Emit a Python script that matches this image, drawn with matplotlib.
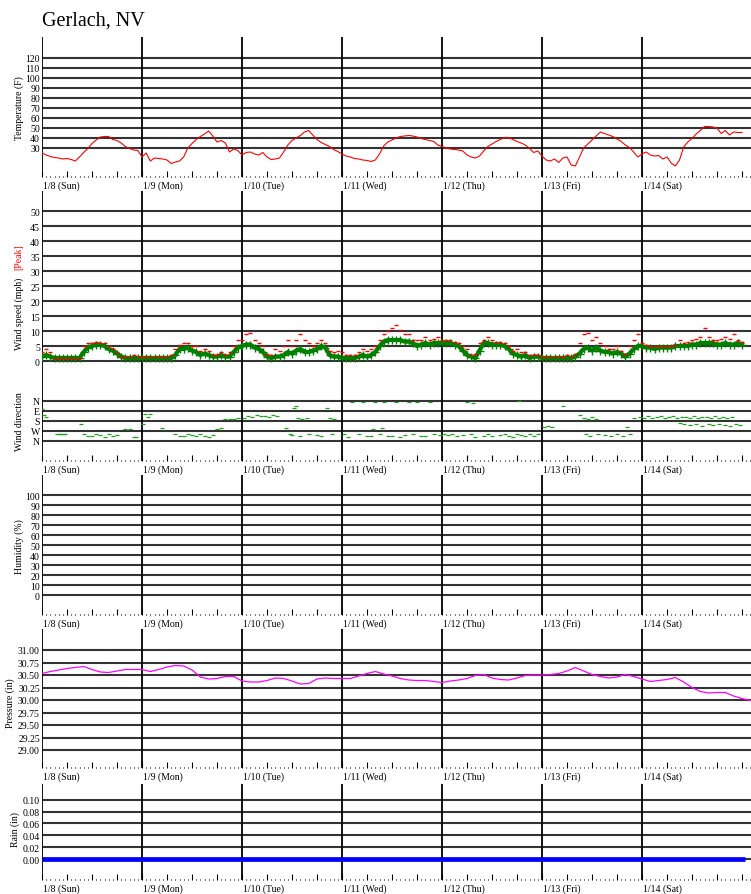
import numpy as np
import matplotlib
matplotlib.use("Agg")
import matplotlib.pyplot as plt

plt.rcParams["font.family"] = ["Liberation Serif", "DejaVu Serif"]
plt.rcParams["font.size"] = 7

W, H = 751, 895      # tamanho da figura em pixels
X0 = 42              # borda esquerda dos paineis
XMAX = 170.16        # horas visiveis no eixo x

DIAS = ["1/8 (Sun)", "1/9 (Mon)", "1/10 (Tue)", "1/11 (Wed)",
        "1/12 (Thu)", "1/13 (Fri)", "1/14 (Sat)"]

# temperatura (F), uma leitura por hora
temp_0108 = [25, 23, 21.5, 20.5, 20, 19, 19.5, 18.5, 17, 21, 25.5, 29.5,
             34.5, 38, 41, 41.5, 41.5, 38.5, 37.5, 35, 31.5, 29.5, 28, 27.5]
temp_0109 = [21, 25, 17, 20, 19.5, 19, 18, 14.5, 16, 17, 21, 30,
             34.5, 38.5, 41.5, 44, 47, 42, 36, 37.5, 35, 26, 29, 27.5]
temp_0110 = [23, 25.5, 26, 24, 23, 25.5, 21, 18.5, 19, 20, 26, 33,
             37.5, 40, 42.5, 46, 47.5, 43, 38.5, 35.5, 33.5, 31.5, 28.5, 26.5]
temp_0111 = [24, 22, 21, 19.5, 19, 18, 17.5, 16.5, 18, 24, 32, 36,
             38, 40, 41.5, 42, 42.5, 42, 41, 39.5, 38.5, 37.5, 36.5, 33]
temp_0112 = [31.5, 30, 29, 28.5, 28, 27, 23, 21, 20, 22, 27, 31.5,
             34, 36.5, 38.5, 40.5, 40.5, 38.5, 36.5, 35, 33, 29.5, 25.5, 27]
temp_0113 = [22, 18, 17, 19, 15.5, 20, 21, 13, 12, 21, 30, 34,
             38, 42, 46, 44.5, 43, 41.5, 39, 36.5, 33, 30.5, 26, 21]
temp_0114 = [24, 26, 23, 22, 22.5, 19, 21, 15, 12, 18, 31, 36,
             39.5, 44, 47.5, 51.5, 51.5, 51, 50, 44.5, 47.5, 43, 46, 45.5, 45.5]

# vento medio e rajada (mph), uma leitura por hora
vento_0108 = [1.5, 2, 1.5, 1, 1, 1, 1, 1, 1, 1, 3, 4.5,
              5, 5.5, 5.5, 5, 4, 3.5, 2.5, 1.5, 1, 1, 1, 1]
vento_0109 = [1, 1, 1, 1, 1, 1, 1, 1, 2, 4, 4, 4.5,
              3.5, 3, 2, 2.5, 2, 1.5, 1.5, 2, 1.5, 1.5, 3, 4.5]
vento_0110 = [5, 5.5, 5.5, 4.5, 4, 3, 1.5, 1, 1.5, 1.5, 2, 3,
              2.5, 3.5, 4, 3, 3, 3.5, 4, 5, 4.5, 2, 1.5, 1.5]
vento_0111 = [1, 1, 1, 1, 1.5, 2, 1.5, 2, 3, 5, 6.5, 7,
              7, 7, 7, 6.5, 6.5, 6, 5, 5.5, 6, 5.5, 6, 6]
vento_0112 = [6, 6, 6, 5.5, 5, 3.5, 2, 1.5, 1, 3.5, 6, 6,
              5.5, 5.5, 5.5, 5, 4, 2.5, 2, 1.5, 2, 1, 1.5, 1.5]
vento_0113 = [1, 1, 1, 1, 1, 1, 1, 1, 1.5, 2.5, 4, 4.5,
              3.5, 4.5, 3.5, 3, 3, 2.5, 3, 2.5, 1.5, 2.5, 4, 5]
vento_0114 = [5, 4.5, 4.5, 4, 4.5, 4.5, 4.5, 4.5, 5, 5, 5, 5,
              5.5, 5.5, 6, 6, 6, 6, 5.5, 5.5, 6, 5.5, 5.5, 6, 5.5]

rajada_0108 = [3, 4, 3, 1, 1, 1, 1, 1, 1, 1, 5, 6,
               6, 6.5, 6, 6, 5, 4, 3, 1.5, 1.5, 1.5, 2, 1.5]
rajada_0109 = [1.5, 1.5, 1.5, 1.5, 1.5, 1.5, 1.5, 2, 4, 5.5, 6, 6,
               5, 5, 3.5, 4, 3.5, 2, 2, 3, 2, 3, 5, 7]
rajada_0110 = [7, 9, 9.5, 7, 6, 5, 2.5, 2, 4, 3.5, 5, 7,
               5, 7, 9, 7, 6, 5, 6, 7, 6, 3.5, 3, 3.5]
rajada_0111 = [3, 2, 2, 2, 3, 4, 3.5, 4, 5, 7, 9, 10,
               11, 12, 10.5, 9, 9, 7, 7, 7, 8, 7, 7.5, 8]
rajada_0112 = [7, 7, 7, 6.5, 6, 5, 4, 2, 2.5, 6, 7, 8,
               7, 6.5, 6.5, 6, 5, 3.5, 4, 3, 3, 2, 2, 2]
rajada_0113 = [1.5, 1.5, 1.5, 1.5, 1.5, 1.5, 2, 1.5, 2.5, 6, 9, 9.5,
               7, 8, 6, 5, 4, 4, 5, 3.5, 2.5, 5, 7, 9]
rajada_0114 = [6, 5.5, 5, 5, 5, 5, 5, 5, 5.5, 7, 6, 6.5,
               7, 7.5, 8, 11, 8, 7, 7, 7.5, 8, 7.5, 9, 7, 6.5]

# direcao do vento (hora, graus)
dir_horas = [0, 0.5, 1, 3.5, 4, 4.5, 5, 5.5, 9.3, 10, 11, 12, 13, 14, 15, 16, 17, 18,
             20, 21, 22, 22.5,
             24.2, 24.8, 25.5, 26, 28.9, 32, 33, 34, 35, 36, 37, 38, 39, 40, 41,
             42, 43, 44, 45, 46, 47,
             48.5, 49.5, 50.5, 51.5, 52.5, 53.5, 54.5, 55.5, 56.5, 58.5, 60.5, 61,
             61.5, 62.5, 63.5, 59.5, 60, 62, 64, 66, 67, 69.5, 68.5, 69, 70,
             74.5, 77, 80, 82, 85, 88, 90, 93, 72.5, 73.5, 76, 78, 79, 81, 83, 84,
             86, 87, 89, 91, 92, 94, 95.5, 79.5, 81.5,
             96.5, 97.5, 98.5, 99.5, 101, 103, 104, 106, 107, 108, 110, 111, 112,
             113, 114, 115, 116, 117, 118, 119, 102, 103.5, 114.5,
             120.5, 121.5, 122.5, 125, 129, 130, 131, 132, 133, 130.5, 131.5,
             133.5, 135, 136.5, 138, 139.5, 141, 140.5,
             142, 143.5, 144.5, 145.5, 146.5, 147.5, 148.5, 149.5, 150.5, 151.5,
             152.5, 153.5, 154.5, 155.5, 156.5, 157.5, 158.5, 159.5, 160.5, 161.5,
             162.5, 163.5, 164.5, 165.5, 153, 154, 155.5, 157, 158.5, 160, 161,
             162.5, 164, 165, 166.5, 167.5]
dir_graus = [75, 126, 144, 294, 300, 294, 300, 294, 210, 300, 312, 318, 300, 310, 324, 300, 318, 306,
             250, 252, 320, 324,
             204, 120, 140, 114, 240, 300, 312, 318, 300, 306, 318, 300, 312, 324, 306,
             250, 246, 160, 162, 166, 156,
             150, 138, 144, 130, 135, 138, 144, 130, 135, 240, 60, 48,
             150, 162, 150, 300, 306, 312, 300, 306, 312, 300, 66, 156, 160,
             10, 6, 8, 12, 6, 10, 8, 6, 300, 324, 300, 312, 318, 300, 312, 318,
             324, 306, 300, 318, 312, 300, 306, 250, 246,
             300, 310, 300, 318, 306, 300, 324, 312, 300, 318, 306, 300, 312,
             324, 300, 306, 312, 300, 318, 300, 8, 20, 4,
             231, 228, 234, 45, 126, 150, 165, 140, 160, 300, 318,
             300, 306, 318, 300, 312, 300, 231,
             150, 140, 150, 135, 150, 140, 135, 150, 144, 135,
             150, 144, 140, 150, 135, 150, 144, 140, 150, 136,
             150, 140, 150, 144, 200, 210, 215, 204, 225, 210, 215,
             204, 212, 222, 210, 218]

# pressao (in), uma leitura a cada 2 horas
pres_0108 = [30.53, 30.57, 30.60, 30.63, 30.65, 30.67, 30.61, 30.56, 30.55, 30.58, 30.61, 30.61]
pres_0109 = [30.61, 30.57, 30.61, 30.66, 30.69, 30.68, 30.60, 30.46, 30.42, 30.43, 30.47, 30.47]
pres_0110 = [30.38, 30.36, 30.36, 30.39, 30.44, 30.43, 30.38, 30.32, 30.33, 30.42, 30.44, 30.43]
pres_0111 = [30.43, 30.43, 30.48, 30.53, 30.57, 30.52, 30.48, 30.43, 30.40, 30.39, 30.39, 30.37]
pres_0112 = [30.35, 30.38, 30.40, 30.43, 30.49, 30.51, 30.44, 30.41, 30.40, 30.44, 30.49, 30.50]
pres_0113 = [30.50, 30.51, 30.53, 30.58, 30.65, 30.58, 30.51, 30.47, 30.44, 30.46, 30.51, 30.47]
pres_0114 = [30.42, 30.37, 30.39, 30.41, 30.45, 30.36, 30.25, 30.17, 30.14, 30.15, 30.15, 30.08,
             30.03, 29.99]

# chuva (in) no inicio de cada dia
chuva_horas = [0, 24, 48, 72, 96, 120, 144, 168.6]
chuva_in = [0.00, 0.00, 0.00, 0.00, 0.00, 0.00, 0.00, 0.00]

temp = temp_0108 + temp_0109 + temp_0110 + temp_0111 + temp_0112 + temp_0113 + temp_0114
vento = vento_0108 + vento_0109 + vento_0110 + vento_0111 + vento_0112 + vento_0113 + vento_0114
rajada = rajada_0108 + rajada_0109 + rajada_0110 + rajada_0111 + rajada_0112 + rajada_0113 + rajada_0114
pres = pres_0108 + pres_0109 + pres_0110 + pres_0111 + pres_0112 + pres_0113 + pres_0114
horas = np.arange(len(temp))
horas_pres = np.arange(len(pres)) * 2

fig = plt.figure(figsize=(W / 100, H / 100), dpi=100)


def painel(top, bottom, ylim, yticks, ylabels, datas=True):
    # cria um painel com as linhas de grade no estilo do grafico original
    ax = fig.add_axes([X0 / W, 1 - bottom / H, (W - X0) / W, (bottom - top) / H])
    ax.set_xlim(0, XMAX)
    ax.set_ylim(*ylim)
    for s in ax.spines.values():
        s.set_visible(False)
    for y in yticks:
        ax.axhline(y, color="#333333", lw=1.5, zorder=1)
    for d in range(7):
        ax.axvline(d * 24, color="black", lw=1.3, zorder=2)
    ax.set_yticks(yticks)
    ax.set_yticklabels(ylabels)
    ax.tick_params(axis="y", length=0, pad=1.5)
    if datas:
        ax.set_xticks(range(0, 169, 6))
        ax.set_xticks(range(0, 171), minor=True)
        ax.tick_params(axis="x", which="major", direction="in", length=4.3,
                       width=0.8, labelbottom=False)
        ax.tick_params(axis="x", which="minor", direction="in", length=0.8, width=0.8)
        for d, lab in enumerate(DIAS):
            ax.annotate(lab, xy=(d * 24, 0), xycoords=("data", "axes fraction"),
                        xytext=(0.5, -2.5), textcoords="offset points",
                        ha="left", va="top")
    else:
        ax.set_xticks([])
    return ax


def rotulo(x, y, texto, cor="black"):
    fig.text(x / W, 1 - y / H, texto, rotation=90, ha="center", va="center", color=cor)


fig.text(X0 / W, 1 - 26 / H, "Gerlach, NV", fontsize=14.5, va="baseline", ha="left")

# temperatura
t_ticks = list(range(30, 121, 10))
ax_t = painel(38, 178, (1, 141), t_ticks, [str(v) for v in t_ticks])
ax_t.plot(horas, temp, color="red", lw=0.8, zorder=3)
rotulo(19, 108, "Temperature (F)")

# velocidade do vento
v_ticks = list(range(0, 51, 5))
ax_v = painel(192, 392, (-10, 56.67), v_ticks, [str(v) for v in v_ticks], datas=False)
ax_v.plot(horas, vento, color="green", lw=3, zorder=3)
ax_v.plot(horas, vento, ls="none", marker="+", ms=6, mew=1, color="green", zorder=3)
ax_v.plot(horas, rajada, ls="none", marker="_", ms=2.5, mew=1, color="red", zorder=4)
rotulo(19, 314, "Wind speed (mph)")
rotulo(19, 257, "[Peak]", cor="red")

# direcao do vento
ax_d = painel(392, 462, (540, -90), [0, 90, 180, 270, 360], ["N", "E", "S", "W", "N"])
ax_d.plot(dir_horas, dir_graus, ls="none", marker="_", ms=2.5, mew=0.9, color="#22a022", zorder=3)
rotulo(19, 422, "Wind direction")

# umidade (sem dados)
u_ticks = list(range(0, 101, 10))
ax_u = painel(476, 616, (-20, 120), u_ticks, [str(v) for v in u_ticks])
rotulo(19, 547, "Humidity (%)")

# pressao
p_ticks = [29.00, 29.25, 29.50, 29.75, 30.00, 30.25, 30.50, 30.75, 31.00]
ax_p = painel(630, 769, (28.64, 31.42), p_ticks, ["%.2f" % v for v in p_ticks])
ax_p.plot(horas_pres, pres, color="magenta", lw=0.9, zorder=3)
rotulo(10, 703, "Pressure (in)")

# chuva
c_ticks = [0.00, 0.02, 0.04, 0.06, 0.08, 0.10]
ax_c = painel(785, 881, (-0.0354, 0.1265), c_ticks, ["%.2f" % v for v in c_ticks])
ax_c.plot(chuva_horas, chuva_in, color="blue", lw=3.4, solid_capstyle="butt", zorder=3)
rotulo(15, 830, "Rain (in)")

fig.savefig("out.png", dpi=100)
